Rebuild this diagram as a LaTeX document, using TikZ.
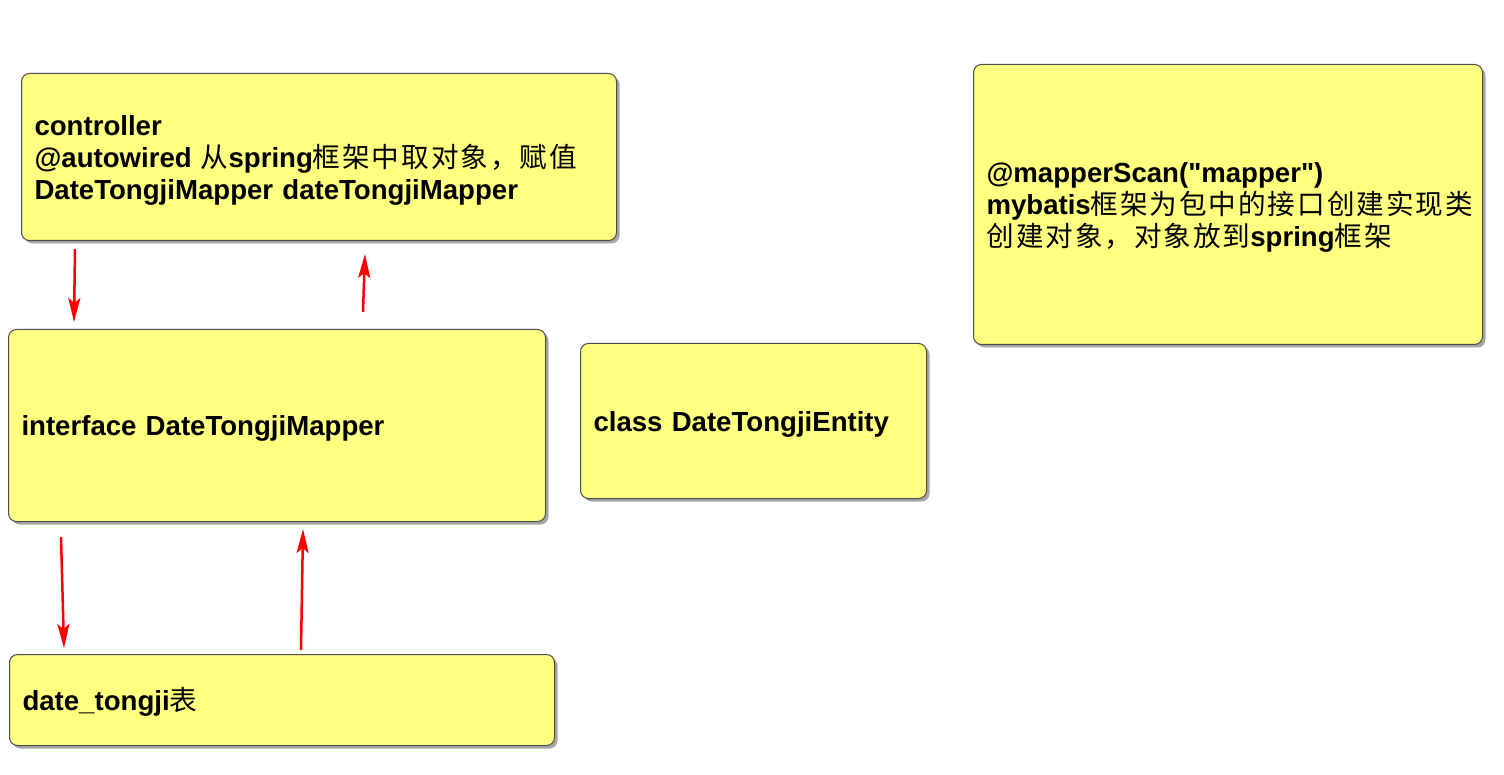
\documentclass[tikz,border=0pt]{standalone}
\usepackage{fontspec}
\newfontfamily\lat{Liberation Sans}
\newfontfamily\cjk[LetterSpace=7]{Noto Sans CJK SC}
\usetikzlibrary{shadows,arrows.meta,calc}
\newcommand\zh[1]{{\cjk\mdseries #1}}
\definecolor{noteyellow}{HTML}{FFFF80}
\tikzset{
  note/.style={draw=black!70, line width=1pt, fill=noteyellow,
    rounded corners=8pt, anchor=north west, align=left, inner xsep=13pt, inner ysep=0pt,
    font=\lat\fontsize{27.6}{32}\selectfont\bfseries,
    execute at begin node={\rule{0pt}{26pt}},
    drop shadow={shadow xshift=3pt, shadow yshift=-3pt, opacity=0.5, fill=black!70}},
  arr/.style={draw=red, line width=2.5pt, -{Stealth[length=24pt,width=12pt,inset=5pt]}}
}
\begin{document}
\begin{tikzpicture}[x=1pt,y=1pt]
\useasboundingbox (0,0) rectangle (1504,-775);
\node[note, minimum width=595pt, minimum height=167pt, text width=569pt] (ctrl) at (21,-73)
  {controller\\@autowired \zh{从}spring\zh{框架中取对象，赋值}\\DateTongjiMapper dateTongjiMapper};
\node[note, minimum width=537pt, minimum height=192pt, text width=511pt] (iface) at (8,-329)
  {interface DateTongjiMapper};
\node[note, minimum width=346pt, minimum height=155pt, text width=320pt] (cls) at (580,-343)
  {class DateTongjiEntity};
\node[note, minimum width=545pt, minimum height=91pt, text width=519pt] (tbl) at (9,-654)
  {date\_tongji\zh{表}};
\node[note, minimum width=509pt, minimum height=280pt, text width=483pt] (mscan) at (973,-64)
  {@mapperScan("mapper")\\mybatis\zh{框架为包中的接口创建实现类}\\\zh{创建对象，对象放到}spring\zh{框架}};
\draw[arr] ($(ctrl.south west)+(54,-8)$) -- ($(iface.north west)+(66,7)$);
\draw[arr] ($(iface.north west)+(355,17)$) -- ($(ctrl.south west)+(344,-13)$);
\draw[arr] ($(iface.south west)+(53,-15)$) -- ($(tbl.north west)+(55,6)$);
\draw[arr] ($(tbl.north west)+(292,4)$) -- ($(iface.south west)+(295,-7)$);
\end{tikzpicture}
\end{document}
